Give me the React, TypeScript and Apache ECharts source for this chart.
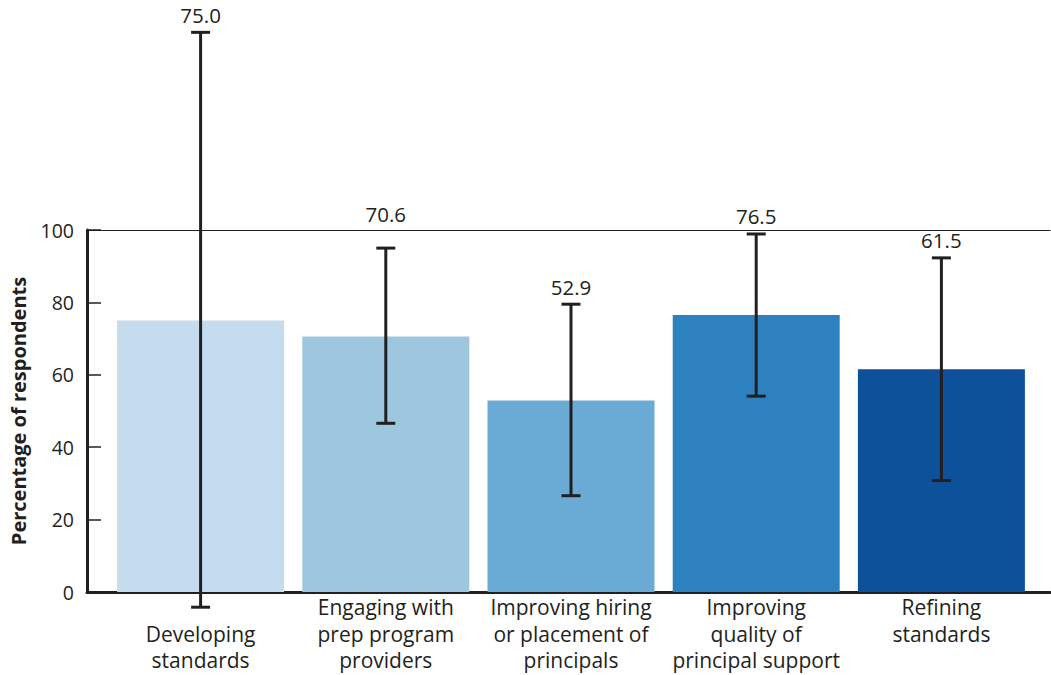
import React, { useEffect, useRef } from "react";
import * as echarts from "echarts";

const categories = [
  "Developing\nstandards",
  "Engaging with\nprep program\nproviders",
  "Improving hiring\nor placement of\nprincipals",
  "Improving\nquality of\nprincipal support",
  "Refining\nstandards",
];
const values = [75.0, 70.6, 52.9, 76.5, 61.5];
const errHigh = [154.6, 95.0, 79.5, 98.9, 92.3];
const errLow = [-4.2, 46.6, 26.6, 54.1, 30.8];
const labelAt = [154.6, 99.6, 79.5, 98.9, 92.3];
const colors = ["#c5dbee", "#9dc7de", "#6aabd6", "#2e81bf", "#0e519b"];
const yTicks = [0, 20, 40, 60, 80, 100];

const FONT = "'Open Sans', 'Noto Sans', sans-serif";
const INK = "#231f20";

export default function App() {
  const ref = useRef<HTMLDivElement>(null);
  useEffect(() => {
    if (!ref.current) return;
    const chart = echarts.init(ref.current, null, { renderer: "svg" });
    const option: any = {
      animation: false,
      textStyle: { fontFamily: FONT, color: INK },
      grid: [
        { left: 87, right: 1, top: 230, bottom: 83, outerBoundsMode: "none", containLabel: false },
        { left: 108, right: 17, top: 230, bottom: 83, outerBoundsMode: "none", containLabel: false },
      ],
      xAxis: [
        {
          type: "value",
          gridIndex: 0,
          min: 0,
          max: 1,
          position: "bottom",
          axisLine: { show: true, lineStyle: { color: INK, width: 3 } },
          axisTick: { show: false },
          axisLabel: { show: false },
          splitLine: { show: false },
        },
        {
          type: "value",
          gridIndex: 0,
          min: 0,
          max: 1,
          position: "top",
          axisLine: { show: true, lineStyle: { color: INK, width: 1.2 } },
          axisTick: { show: false },
          axisLabel: { show: false },
          splitLine: { show: false },
        },
        {
          type: "category",
          gridIndex: 1,
          data: categories,
          axisLine: { show: false },
          axisTick: { show: false },
          axisLabel: {
            interval: 0,
            margin: 2,
            fontFamily: FONT,
            fontSize: 21,
            lineHeight: 26.5,
            color: INK,
            verticalAlign: "top",
            formatter: (v: string, i: number) => (i === 0 ? "\n" + v : v),
          },
        },
      ],
      yAxis: [
        {
          type: "value",
          gridIndex: 0,
          min: 0,
          max: 100,
          interval: 20,
          name: "Percentage of respondents",
          nameLocation: "middle",
          nameGap: 59,
          nameTextStyle: {
            fontFamily: FONT,
            fontSize: 20,
            fontWeight: "bold",
            color: INK,
          },
          axisLine: { show: true, lineStyle: { color: INK, width: 3 } },
          axisTick: {
            show: true,
            inside: true,
            length: 14,
            lineStyle: { color: INK, width: 1.5 },
          },
          axisLabel: {
            fontFamily: FONT,
            fontSize: 19.5,
            color: INK,
            margin: 13,
            customValues: yTicks,
          },
          splitLine: { show: false },
        },
        {
          type: "value",
          gridIndex: 1,
          min: 0,
          max: 100,
          show: false,
        },
      ],
      series: [
        {
          type: "bar",
          xAxisIndex: 2,
          yAxisIndex: 1,
          barWidth: 167,
          data: values.map((v, i) => ({ value: v, itemStyle: { color: colors[i] } })),
          z: 2,
        },
        {
          type: "custom",
          xAxisIndex: 2,
          yAxisIndex: 1,
          clip: false,
          z: 5,
          data: values.map((v, i) => [i, errHigh[i], errLow[i], labelAt[i], v]),
          renderItem: (params: any, api: any) => {
            const i = api.value(0);
            const hi = api.coord([i, api.value(1)]);
            const lo = api.coord([i, api.value(2)]);
            const lab = api.coord([i, api.value(3)]);
            const v = api.value(4);
            const half = 9.5;
            const st = { stroke: INK, lineWidth: 3 };
            return {
              type: "group",
              children: [
                { type: "line", shape: { x1: hi[0], y1: hi[1], x2: lo[0], y2: lo[1] }, style: st },
                { type: "line", shape: { x1: hi[0] - half, y1: hi[1], x2: hi[0] + half, y2: hi[1] }, style: st },
                { type: "line", shape: { x1: lo[0] - half, y1: lo[1], x2: lo[0] + half, y2: lo[1] }, style: st },
                {
                  type: "text",
                  x: lab[0],
                  y: lab[1] - 7,
                  style: {
                    text: v.toFixed(1),
                    fontFamily: FONT,
                    fontSize: 20.5,
                    fill: INK,
                    align: "center",
                    verticalAlign: "bottom",
                  },
                },
              ],
            };
          },
        },
      ],
    };
    chart.setOption(option);
    return () => chart.dispose();
  }, []);
  return (
    <div
      ref={ref}
      style={{ position: "absolute", left: 0, top: 0, width: 1051, height: 675, background: "#fff" }}
    />
  );
}
